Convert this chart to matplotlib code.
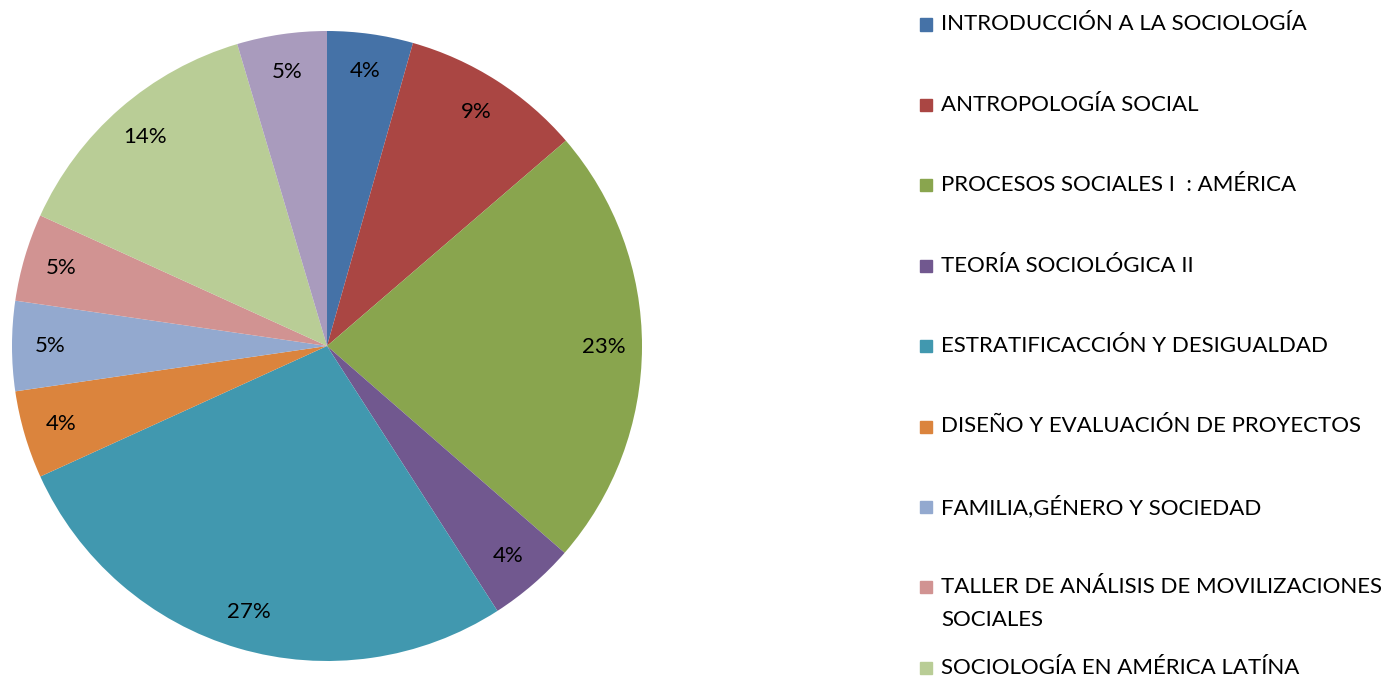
import matplotlib.pyplot as plt
from matplotlib.patches import Rectangle

# share of each course (clockwise from 12 o'clock)
courses = [
    "INTRODUCCIÓN A LA SOCIOLOGÍA",
    "ANTROPOLOGÍA SOCIAL",
    "PROCESOS SOCIALES I  : AMÉRICA",
    "TEORÍA SOCIOLÓGICA II",
    "ESTRATIFICACCIÓN Y DESIGUALDAD",
    "DISEÑO Y EVALUACIÓN DE PROYECTOS",
    "FAMILIA,GÉNERO Y SOCIEDAD",
    "TALLER DE ANÁLISIS DE MOVILIZACIONES\nSOCIALES",
    "SOCIOLOGÍA EN AMÉRICA LATÍNA",
]
shares = [4.4, 9.3, 22.7, 4.5, 27.3, 4.5, 4.6, 4.5, 13.6, 4.6]
pct_labels = ["4%", "9%", "23%", "4%", "27%", "4%", "5%", "5%", "14%", "5%"]
colors = ["#4572A7", "#AA4643", "#89A54E", "#71588F", "#4198AF",
          "#DB843D", "#93A9CF", "#D19392", "#B9CD96", "#A99BBD"]

W, H = 1393, 678
fig = plt.figure(figsize=(W / 100, H / 100), dpi=100)
font = "Lato"
fsize = 16

# pie area: centre (327, 346) px, radius 315 px
cx, cy, r = 327, 346, 315
ax = fig.add_axes([(cx - r) / W, (H - cy - r) / H, 2 * r / W, 2 * r / H])
wedges, texts = ax.pie(shares, colors=colors, startangle=90, counterclock=False,
                       labels=pct_labels, labeldistance=0.88,
                       textprops=dict(fontsize=fsize, family=font, ha="center", va="center"))
ax.set_xlim(-1, 1)
ax.set_ylim(-1, 1)
ax.set_aspect("equal")

# legend drawn by hand; the last slice's entry is cut off in the original
y0, step, line_h = 24.5, 80.4, 33
for i, (name, c) in enumerate(zip(courses, colors)):
    y = y0 + i * step
    fig.patches.append(Rectangle((920 / W, (H - y - 6) / H), 12 / W, 12 / H,
                                 transform=fig.transFigure, color=c))
    for k, line in enumerate(name.split("\n")):
        fig.text(941 / W, (H - y - k * line_h) / H, line, fontsize=fsize,
                 family=font, va="center", ha="left")

fig.savefig("out.png", dpi=100)
